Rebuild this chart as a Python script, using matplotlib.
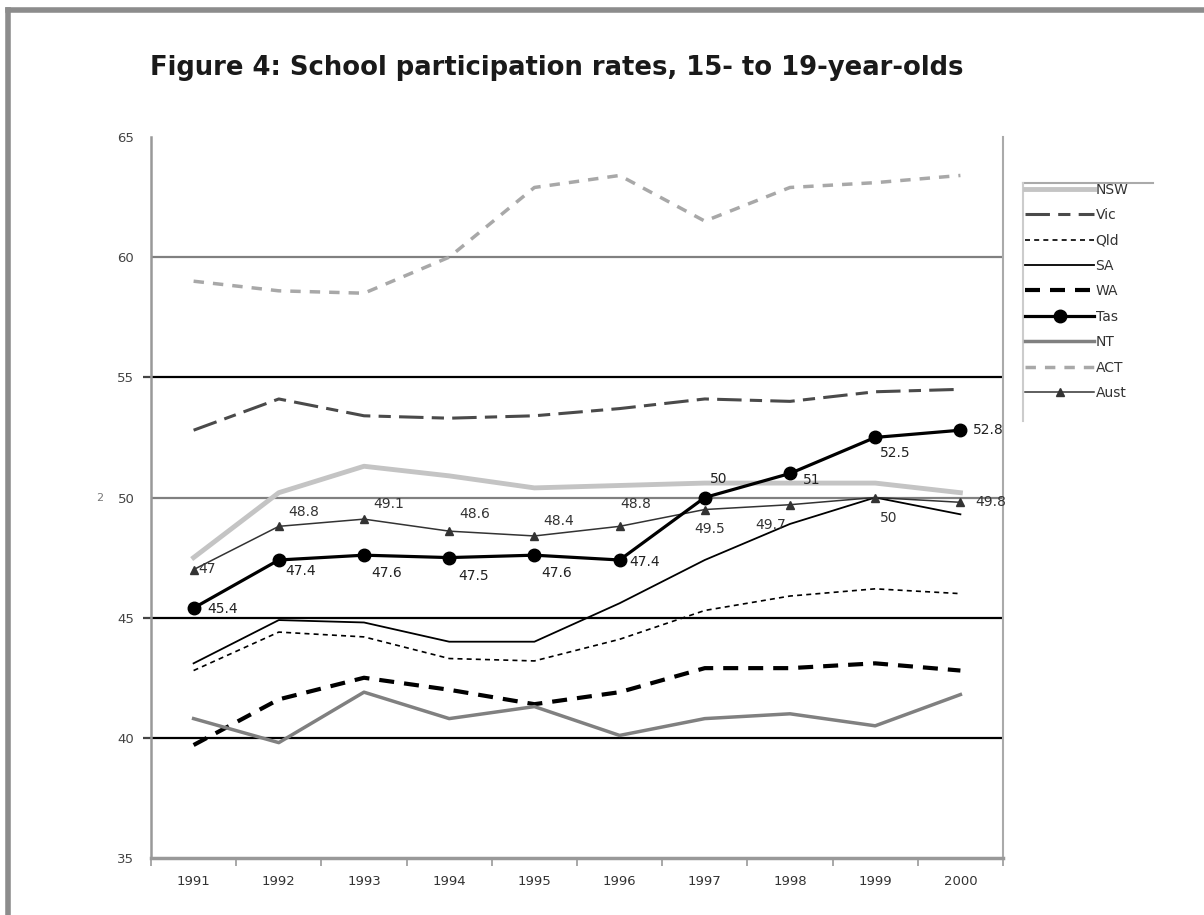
import numpy as np
import matplotlib
matplotlib.use("Agg")
import matplotlib.pyplot as plt
from matplotlib.lines import Line2D

years = ["1991", "1992", "1993", "1994", "1995", "1996", "1997", "1998", "1999", "2000"]

nsw = [47.5, 50.2, 51.3, 50.9, 50.4, 50.5, 50.6, 50.6, 50.6, 50.2]
vic = [52.8, 54.1, 53.4, 53.3, 53.4, 53.7, 54.1, 54.0, 54.4, 54.5]
qld = [42.8, 44.4, 44.2, 43.3, 43.2, 44.1, 45.3, 45.9, 46.2, 46.0]
sa = [43.1, 44.9, 44.8, 44.0, 44.0, 45.6, 47.4, 48.9, 50.0, 49.3]
wa = [39.7, 41.6, 42.5, 42.0, 41.4, 41.9, 42.9, 42.9, 43.1, 42.8]
tas = [45.4, 47.4, 47.6, 47.5, 47.6, 47.4, 50, 51, 52.5, 52.8]
nt = [40.8, 39.8, 41.9, 40.8, 41.3, 40.1, 40.8, 41.0, 40.5, 41.8]
act = [59.0, 58.6, 58.5, 60.0, 62.9, 63.4, 61.5, 62.9, 63.1, 63.4]
aust = [47, 48.8, 49.1, 48.6, 48.4, 48.8, 49.5, 49.7, 50, 49.8]
yticks = [35, 40, 45, 50, 55, 60, 65]

# label offsets in pixels (dx to left edge, dy downward)
tas_off = [(14, 1), (7, 11), (7, 18), (9, 18), (7, 18), (10, 2), (5, -19), (13, 7), (5, 16), (13, 0)]
aust_off = [(5, -1), (10, -14), (9, -15), (10, -17), (9, -15), (1, -22), (-10, 19), (-35, 20), (5, 20), (15, 0)]

W, H = 1204, 915
fig = plt.figure(figsize=(W / 100, H / 100), dpi=100)
ax = fig.add_axes([151 / W, 1 - 858 / H, (1003 - 151) / W, (858 - 137) / H])

x = np.arange(len(years))

# gridlines
for v, c in [(40, "black"), (45, "black"), (50, "#808080"), (55, "black"), (60, "#808080")]:
    ax.axhline(v, color=c, lw=1.6, zorder=1)

l_nsw, = ax.plot(x, nsw, color="#c4c4c4", lw=3.5, label="NSW", zorder=3)
l_vic, = ax.plot(x, vic, color="#4a4a4a", lw=2.2, dashes=(8, 2.7, 4, 2.7), label="Vic", zorder=3)
l_qld, = ax.plot(x, qld, color="black", lw=1.2, dashes=(3, 2.5), label="Qld", zorder=3)
l_sa, = ax.plot(x, sa, color="black", lw=1.3, label="SA", zorder=3)
l_wa, = ax.plot(x, wa, color="black", lw=3, dashes=(3.6, 2.4), label="WA", zorder=3)
l_tas, = ax.plot(x, tas, color="black", lw=2.3, marker="o", ms=9, label="Tas", zorder=6)
l_nt, = ax.plot(x, nt, color="#808080", lw=2.5, label="NT", zorder=3)
l_act, = ax.plot(x, act, color="#a8a8a8", lw=2.5, dashes=(3, 2.6), label="ACT", zorder=3)
l_aust, = ax.plot(x, aust, color="#333333", lw=1.1, marker="^", ms=6, label="Aust", zorder=5)

k = 0.72
for i, v in enumerate(tas):
    dx, dy = tas_off[i]
    ax.annotate(f"{v:g}", (x[i], v), xytext=(dx * k, -dy * k), textcoords="offset points",
                ha="left", va="center", fontsize=10, color="#222222", zorder=7)
for i, v in enumerate(aust):
    dx, dy = aust_off[i]
    ax.annotate(f"{v:g}", (x[i], v), xytext=(dx * k, -dy * k), textcoords="offset points",
                ha="left", va="center", fontsize=10, color="#333333", zorder=7)

ax.set_xlim(-0.5, len(years) - 0.5)
ax.set_ylim(35, 65)
ax.set_yticks(yticks)
ax.tick_params(axis="y", length=6, width=1.6, colors="#444444", labelsize=9.5, pad=6)
for t, v in zip(ax.yaxis.get_major_ticks(), yticks):
    t.tick1line.set_color("black")
    t.tick1line.set_visible(v in (40, 45, 55))

ax.set_xticks(np.arange(-0.5, len(years)), minor=False)
ax.set_xticklabels([])
ax.set_xticks(x, minor=True)
ax.set_xticklabels(years, minor=True, fontsize=9.5, color="#333333")
ax.tick_params(axis="x", which="major", length=6, width=1.2, color="#999999")
ax.tick_params(axis="x", which="minor", length=0, pad=12)

ax.spines["top"].set_visible(False)
ax.spines["left"].set_color("#999999")
ax.spines["left"].set_linewidth(1.8)
ax.spines["right"].set_color("#aaaaaa")
ax.spines["right"].set_linewidth(1.5)
ax.spines["bottom"].set_color("#999999")
ax.spines["bottom"].set_linewidth(2.5)

# legend
handles = [l_nsw, l_vic, l_qld, l_sa, l_wa, l_tas, l_nt, l_act, l_aust]
fig.legend(handles=handles, loc="upper left", bbox_to_anchor=(1022 / W, 1 - 180 / H),
           frameon=False, fontsize=10, handlelength=5.0, handletextpad=0.1,
           labelspacing=0.82, borderaxespad=0, borderpad=0.2, labelcolor="#333333")
fig.add_artist(Line2D([1023 / W, 1153 / W], [1 - 183 / H, 1 - 183 / H], color="#aaaaaa", lw=1.5))
fig.add_artist(Line2D([1023 / W, 1023 / W], [1 - 183 / H, 1 - 421 / H], color="#cccccc", lw=1.5))

# title
fig.text(150 / W, 1 - 68 / H, "Figure 4: School participation rates, 15- to 19-year-olds",
         fontsize=18.6, fontweight="bold", color="#1a1a1a", ha="left", va="center")
fig.text(100 / W, 1 - 498 / H, "2", fontsize=8, color="#777777", ha="center", va="center")

# outer frame
fig.add_artist(Line2D([8 / W, 1], [1 - 10 / H, 1 - 10 / H], color="#8c8c8c", lw=4))
fig.add_artist(Line2D([8 / W, 8 / W], [1 - 10 / H, 0], color="#8c8c8c", lw=4))

fig.savefig("out.png", dpi=100)
